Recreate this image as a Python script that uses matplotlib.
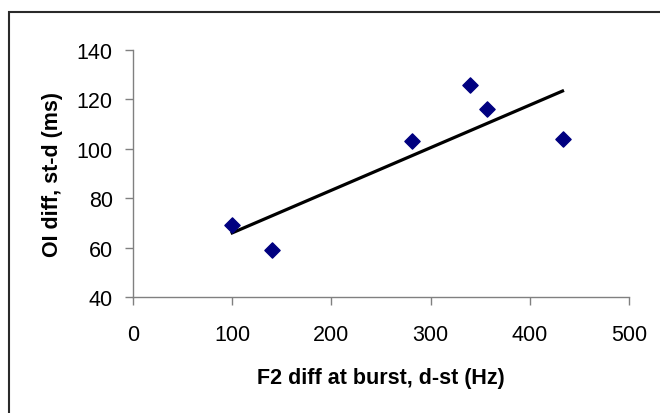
import numpy as np
import matplotlib.pyplot as plt
from matplotlib.patches import Rectangle

# F2 difference at burst (Hz) vs OI difference (ms)
f2_diff = [100, 140, 281, 340, 357, 433]
oi_diff = [69, 59, 103, 126, 116, 104]

x_ticks = [0, 100, 200, 300, 400, 500]
y_ticks = [40, 60, 80, 100, 120, 140]

plt.rcParams['font.family'] = ['Liberation Sans', 'DejaVu Sans']

fig = plt.figure(figsize=(6.6, 4.14), dpi=100)
ax = fig.add_axes([0.2015, 0.280, 0.7515, 0.597])

# outer chart border (right/bottom run off the picture)
fig.patches.append(Rectangle((8.5 / 660, -0.1), 1.2, 1 - 12.5 / 414 + 0.1,
                             transform=fig.transFigure, fill=False,
                             edgecolor='#2a2a2a', linewidth=1.5))

ax.scatter(f2_diff, oi_diff, marker='D', s=60, color='#000080', zorder=3)

# linear trend line
slope, intercept = np.polyfit(f2_diff, oi_diff, 1)
xs = np.array([min(f2_diff), max(f2_diff)])
ax.plot(xs, slope * xs + intercept, color='black', linewidth=2.3, zorder=2)

ax.set_xlim(0, 500)
ax.set_ylim(40, 140)
ax.set_xticks(x_ticks)
ax.set_yticks(y_ticks)

for side in ['top', 'right']:
    ax.spines[side].set_visible(False)
for side in ['left', 'bottom']:
    ax.spines[side].set_color('#808080')
    ax.spines[side].set_linewidth(1.0)
ax.tick_params(axis='both', direction='out', length=5.5, width=1.0,
               color='#808080', labelsize=15.5, labelcolor='black')
ax.tick_params(axis='x', pad=14)
ax.tick_params(axis='y', pad=9)

ax.set_xlabel('F2 diff at burst, d-st (Hz)', fontsize=15.5, fontweight='bold', labelpad=16)
ax.set_ylabel('OI diff, st-d (ms)', fontsize=15.5, fontweight='bold', labelpad=10)

fig.savefig('out.png', dpi=100)
